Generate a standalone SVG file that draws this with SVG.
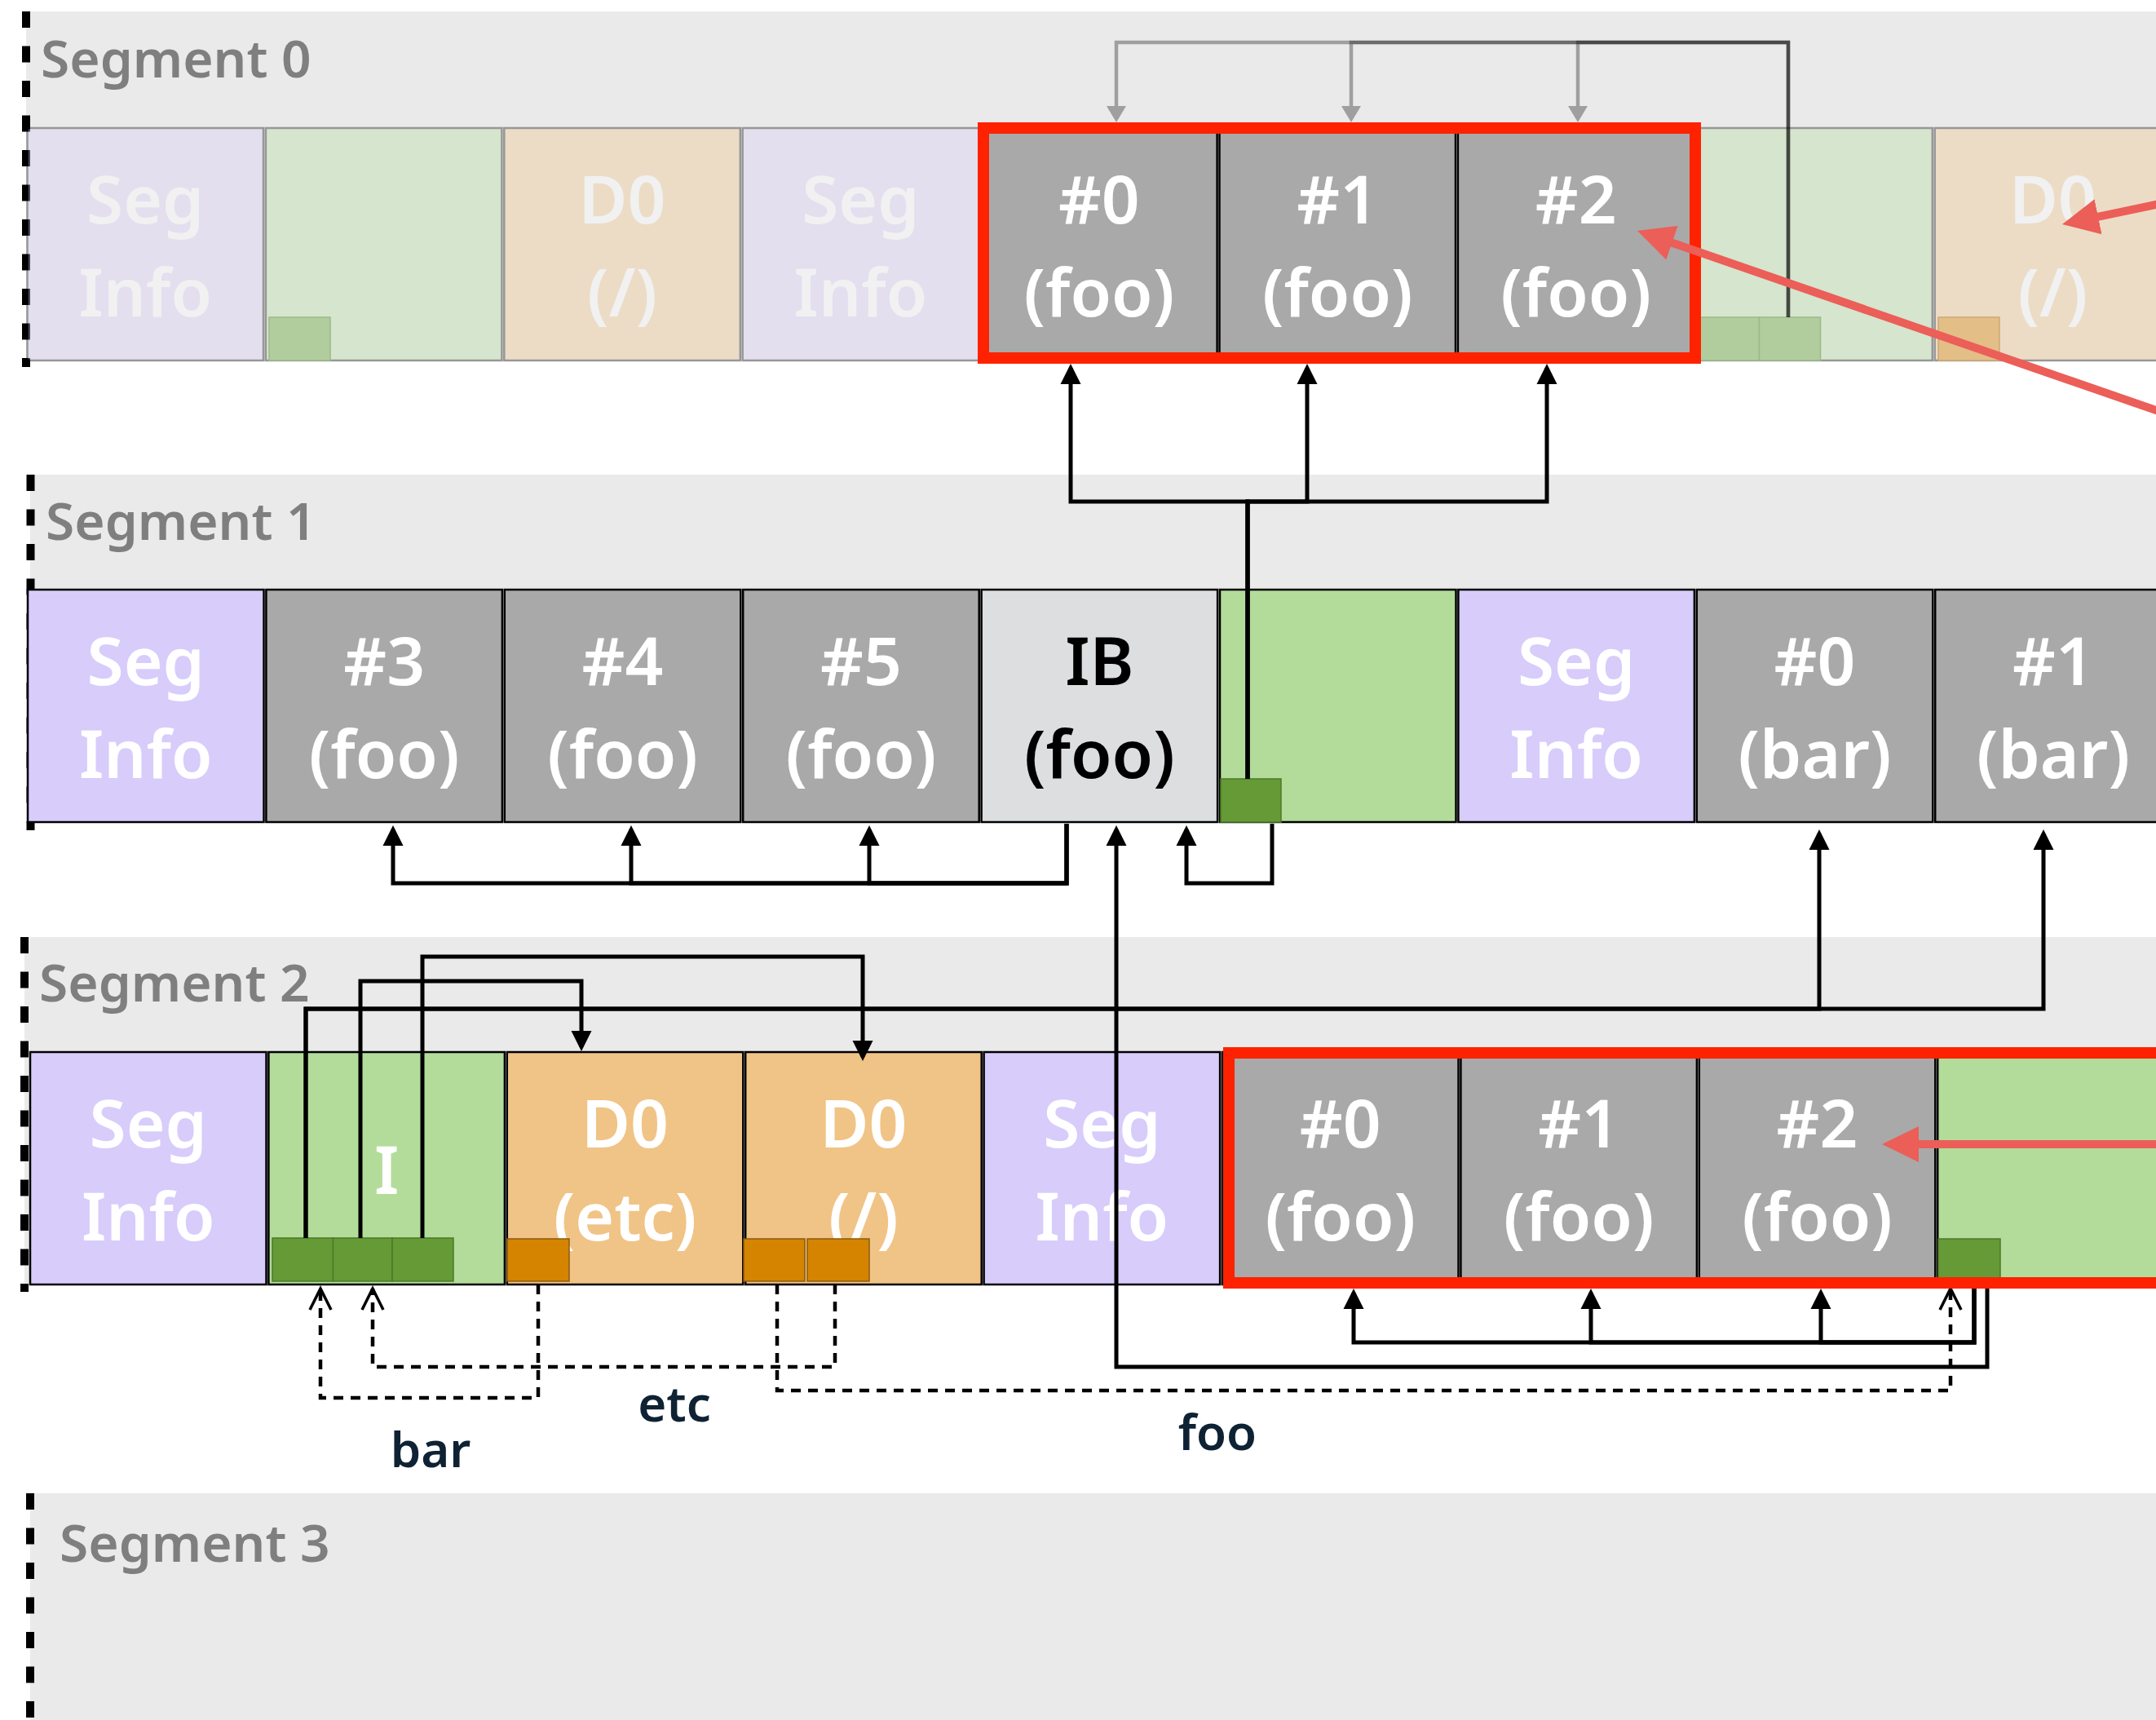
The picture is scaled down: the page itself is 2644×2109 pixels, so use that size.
<svg xmlns="http://www.w3.org/2000/svg" width="2644" height="2109" viewBox="0 0 2644 2109">
<defs>
<style>
.band{fill:#EAEAEA}
.seglbl{font-family:"Noto Sans",sans-serif;font-weight:600;font-size:64px;fill:#7F7F7F}
.dash{fill:none;stroke:#000;stroke-width:10;stroke-dasharray:20 22.5}
.n{stroke:#000;stroke-width:2.5}
.si{fill:#D8CCFB}.gr{fill:#A9A9A9}.gn{fill:#B3DC9A}.or{fill:#F0C486}.ib{fill:#DDDEE0}
.t{font-family:"Noto Sans",sans-serif;font-weight:600;font-size:82px;fill:#fff;text-anchor:middle}
.tb{fill:#000}
.fade{opacity:.35}
.sqg{fill:#659A37;stroke:#4B7A28;stroke-width:1.5}
.sqo{fill:#D58400;stroke:#8B5A12;stroke-width:1.5}
.sqgf{fill:#B1CC9D;stroke:#9CB98A;stroke-width:1.5}
.sqof{fill:#E3BE86;stroke:#CDA874;stroke-width:1.5}
.c{fill:none;stroke:#000;stroke-width:5;marker-end:url(#ah)}
.d{fill:none;stroke:#000;stroke-width:4.5;stroke-dasharray:12 9;marker-end:url(#oa)}
.g{fill:none;stroke:#000;stroke-opacity:.32;stroke-width:4.5;marker-end:url(#ahg)}
.red{fill:none;stroke:#EC5E58;stroke-width:10;marker-end:url(#ahr)}
.box{fill:none;stroke:#FF2200;stroke-width:14}
.lbl{font-family:"Noto Sans",sans-serif;font-weight:600;font-size:60px;fill:#0F2233;text-anchor:middle}
</style>
<marker id="ah" markerUnits="userSpaceOnUse" viewBox="0 -13 26 26" markerWidth="26" markerHeight="26" refX="20" refY="0" orient="auto"><path d="M0,-12.5 L25,0 L0,12.5z" fill="#000"/></marker>
<marker id="ahg" markerUnits="userSpaceOnUse" viewBox="0 -12 20 24" markerWidth="20" markerHeight="24" refX="0" refY="0" orient="auto"><path d="M0,-12 L20,0 L0,12z" fill="#000" fill-opacity=".32"/></marker>
<marker id="ahr" markerUnits="userSpaceOnUse" viewBox="0 -23 46 46" markerWidth="46" markerHeight="46" refX="30" refY="0" orient="auto"><path d="M0,-22 L45,0 L0,22z" fill="#EC5E58"/></marker>
<marker id="oa" markerUnits="userSpaceOnUse" viewBox="-30 -16 32 32" markerWidth="32" markerHeight="32" refX="0" refY="0" orient="auto" overflow="visible"><path d="M-26,-13 L0,0 L-26,13" fill="none" stroke="#000" stroke-width="3.5"/></marker>
</defs>
<rect width="2644" height="2109" fill="#fff"/>

<g id="segments">
<rect class="band" x="32" y="14" width="2612" height="429"/>
<rect class="band" x="37" y="582" width="2607" height="426"/>
<rect class="band" x="30" y="1149" width="2614" height="426"/>
<rect class="band" x="37" y="1831" width="2607" height="278"/>
<line class="dash" x1="32" y1="14" x2="32" y2="450"/>
<line class="dash" x1="37.5" y1="582" x2="37.5" y2="1018"/>
<line class="dash" x1="30" y1="1149" x2="30" y2="1584"/>
<line class="dash" x1="37" y1="1831" x2="37" y2="2109"/>
<text class="seglbl" x="50" y="95">Segment 0</text>
<text class="seglbl" x="56" y="662">Segment 1</text>
<text class="seglbl" x="48" y="1228">Segment 2</text>
<text class="seglbl" x="73" y="1915">Segment 3</text>
</g>

<g id="row0">
<g id="s0n0" class="fade"><rect class="n si" x="33.5" y="157" width="289.5" height="285"/><text class="t" x="178.25" y="274">Seg</text><text class="t" x="178.25" y="388">Info</text></g>
<g id="s0n1"><rect class="n gn fade" x="325.9" y="157" width="289.5" height="285"/><rect class="sqgf" x="330" y="389" width="75" height="53"/></g>
<g id="s0n2" class="fade"><rect class="n or" x="618.3" y="157" width="289.5" height="285"/><text class="t" x="763.05" y="274">D0</text><text class="t" x="763.05" y="388">(/)</text></g>
<g id="s0n3" class="fade"><rect class="n si" x="910.7" y="157" width="289.5" height="285"/><text class="t" x="1055.45" y="274">Seg</text><text class="t" x="1055.45" y="388">Info</text></g>
<g id="s0n4"><rect class="n gr" x="1203.1" y="157" width="289.5" height="285"/><text class="t" x="1347.85" y="274">#0</text><text class="t" x="1347.85" y="388">(foo)</text></g>
<g id="s0n5"><rect class="n gr" x="1495.5" y="157" width="289.5" height="285"/><text class="t" x="1640.25" y="274">#1</text><text class="t" x="1640.25" y="388">(foo)</text></g>
<g id="s0n6"><rect class="n gr" x="1787.9" y="157" width="289.5" height="285"/><text class="t" x="1932.65" y="274">#2</text><text class="t" x="1932.65" y="388">(foo)</text></g>
<g id="s0n7"><rect class="n gn fade" x="2080.3" y="157" width="289.5" height="285"/><rect class="sqgf" x="2082.5" y="389" width="75" height="53"/><rect class="sqgf" x="2157.5" y="389" width="75" height="53"/></g>
<g id="s0n8"><g class="fade"><rect class="n or" x="2372.7" y="157" width="289.5" height="285"/><text class="t" x="2517.45" y="274">D0</text><text class="t" x="2517.45" y="388">(/)</text></g><rect class="sqof" x="2377" y="389" width="75" height="53"/></g>
</g>

<g id="row1">
<g id="s1n0"><rect class="n si" x="34" y="723" width="289.5" height="285"/><text class="t" x="178.75" y="840">Seg</text><text class="t" x="178.75" y="954">Info</text></g>
<g id="s1n1"><rect class="n gr" x="326.4" y="723" width="289.5" height="285"/><text class="t" x="471.15" y="840">#3</text><text class="t" x="471.15" y="954">(foo)</text></g>
<g id="s1n2"><rect class="n gr" x="618.8" y="723" width="289.5" height="285"/><text class="t" x="763.55" y="840">#4</text><text class="t" x="763.55" y="954">(foo)</text></g>
<g id="s1n3"><rect class="n gr" x="911.2" y="723" width="289.5" height="285"/><text class="t" x="1055.95" y="840">#5</text><text class="t" x="1055.95" y="954">(foo)</text></g>
<g id="s1n4"><rect class="n ib" x="1203.6" y="723" width="289.5" height="285"/><text class="t tb" x="1348.35" y="840">IB</text><text class="t tb" x="1348.35" y="954">(foo)</text></g>
<g id="s1n5"><rect class="n gn" x="1496" y="723" width="289.5" height="285"/><rect class="sqg" x="1497" y="955" width="74" height="53"/></g>
<g id="s1n6"><rect class="n si" x="1788.4" y="723" width="289.5" height="285"/><text class="t" x="1933.15" y="840">Seg</text><text class="t" x="1933.15" y="954">Info</text></g>
<g id="s1n7"><rect class="n gr" x="2080.8" y="723" width="289.5" height="285"/><text class="t" x="2225.55" y="840">#0</text><text class="t" x="2225.55" y="954">(bar)</text></g>
<g id="s1n8"><rect class="n gr" x="2373.2" y="723" width="289.5" height="285"/><text class="t" x="2517.95" y="840">#1</text><text class="t" x="2517.95" y="954">(bar)</text></g>
</g>

<g id="row2">
<g id="s2n0"><rect class="n si" x="37" y="1290" width="289.5" height="285"/><text class="t" x="181.75" y="1407">Seg</text><text class="t" x="181.75" y="1521">Info</text></g>
<g id="s2n1"><rect class="n gn" x="329.4" y="1290" width="289.5" height="285"/><text class="t" x="474.15" y="1464">I</text><rect class="sqg" x="334" y="1518" width="74.5" height="53"/><rect class="sqg" x="408.5" y="1518" width="72.5" height="53"/><rect class="sqg" x="481" y="1518" width="75" height="53"/></g>
<g id="s2n2"><rect class="n or" x="621.8" y="1290" width="289.5" height="285"/><text class="t" x="766.55" y="1407">D0</text><text class="t" x="766.55" y="1521">(etc)</text><rect class="sqo" x="622" y="1519" width="76" height="52"/></g>
<g id="s2n3"><rect class="n or" x="914.2" y="1290" width="289.5" height="285"/><text class="t" x="1058.95" y="1407">D0</text><text class="t" x="1058.95" y="1521">(/)</text><rect class="sqo" x="912" y="1519" width="75" height="52"/><rect class="sqo" x="990" y="1519" width="76" height="52"/></g>
<g id="s2n4"><rect class="n si" x="1206.6" y="1290" width="289.5" height="285"/><text class="t" x="1351.35" y="1407">Seg</text><text class="t" x="1351.35" y="1521">Info</text></g>
<g id="s2n5"><rect class="n gr" x="1499" y="1290" width="289.5" height="285"/><text class="t" x="1643.75" y="1407">#0</text><text class="t" x="1643.75" y="1521">(foo)</text></g>
<g id="s2n6"><rect class="n gr" x="1791.4" y="1290" width="289.5" height="285"/><text class="t" x="1936.15" y="1407">#1</text><text class="t" x="1936.15" y="1521">(foo)</text></g>
<g id="s2n7"><rect class="n gr" x="2083.8" y="1290" width="289.5" height="285"/><text class="t" x="2228.55" y="1407">#2</text><text class="t" x="2228.55" y="1521">(foo)</text></g>
<g id="s2n8"><rect class="n gn" x="2376.2" y="1290" width="289.5" height="285"/><rect class="sqg" x="2377" y="1519" width="76" height="52"/></g>
</g>

<g id="connectors">
<path class="g" d="M2193,389 V52 H1369 V130"/>
<path class="g" d="M2193,389 V52 H1657 V130"/>
<path class="g" d="M2193,389 V52 H1935 V130"/>
<path class="c" d="M1530,955 V615 H1313 V451"/>
<path class="c" d="M1530,955 V615 H1603 V451"/>
<path class="c" d="M1530,955 V615 H1897 V451"/>
<path class="c" d="M1308,1010 V1083 H482 V1017"/>
<path class="c" d="M1308,1010 V1083 H774 V1017"/>
<path class="c" d="M1308,1010 V1083 H1066 V1017"/>
<path class="c" d="M1560,1010 V1083 H1455 V1017"/>
<path class="c" d="M375,1518 V1237 H2231 V1022"/>
<path class="c" d="M375,1518 V1237 H2506 V1022"/>
<path class="c" d="M442,1518 V1203 H713 V1284"/>
<path class="c" d="M518,1518 V1173 H1058 V1296"/>
<path class="c" d="M2421,1571 V1646 H1660 V1585"/>
<path class="c" d="M2421,1571 V1646 H1951 V1585"/>
<path class="c" d="M2421,1571 V1646 H2233 V1585"/>
<path class="c" d="M2437,1571 V1676 H1369 V1017"/>
<path class="d" d="M660,1575 V1714 H393 V1580"/>
<path class="d" d="M1024,1575 V1676 H457 V1580"/>
<path class="d" d="M953,1575 V1705 H2392 V1580"/>
<text class="lbl" x="528" y="1799">bar</text>
<text class="lbl" x="827" y="1743">etc</text>
<text class="lbl" x="1493" y="1778">foo</text>
</g>

<g id="highlights">
<rect class="box" x="1206" y="157" width="873" height="282"/>
<rect class="box" x="1507" y="1291" width="1200" height="282"/>
<path class="red" d="M2700,239.3 L2543.7,271.9"/>
<path class="red" d="M2700,522.4 L2022.2,287.9"/>
<path class="red" d="M2700,1403 L2323,1403"/>
</g>
</svg>
